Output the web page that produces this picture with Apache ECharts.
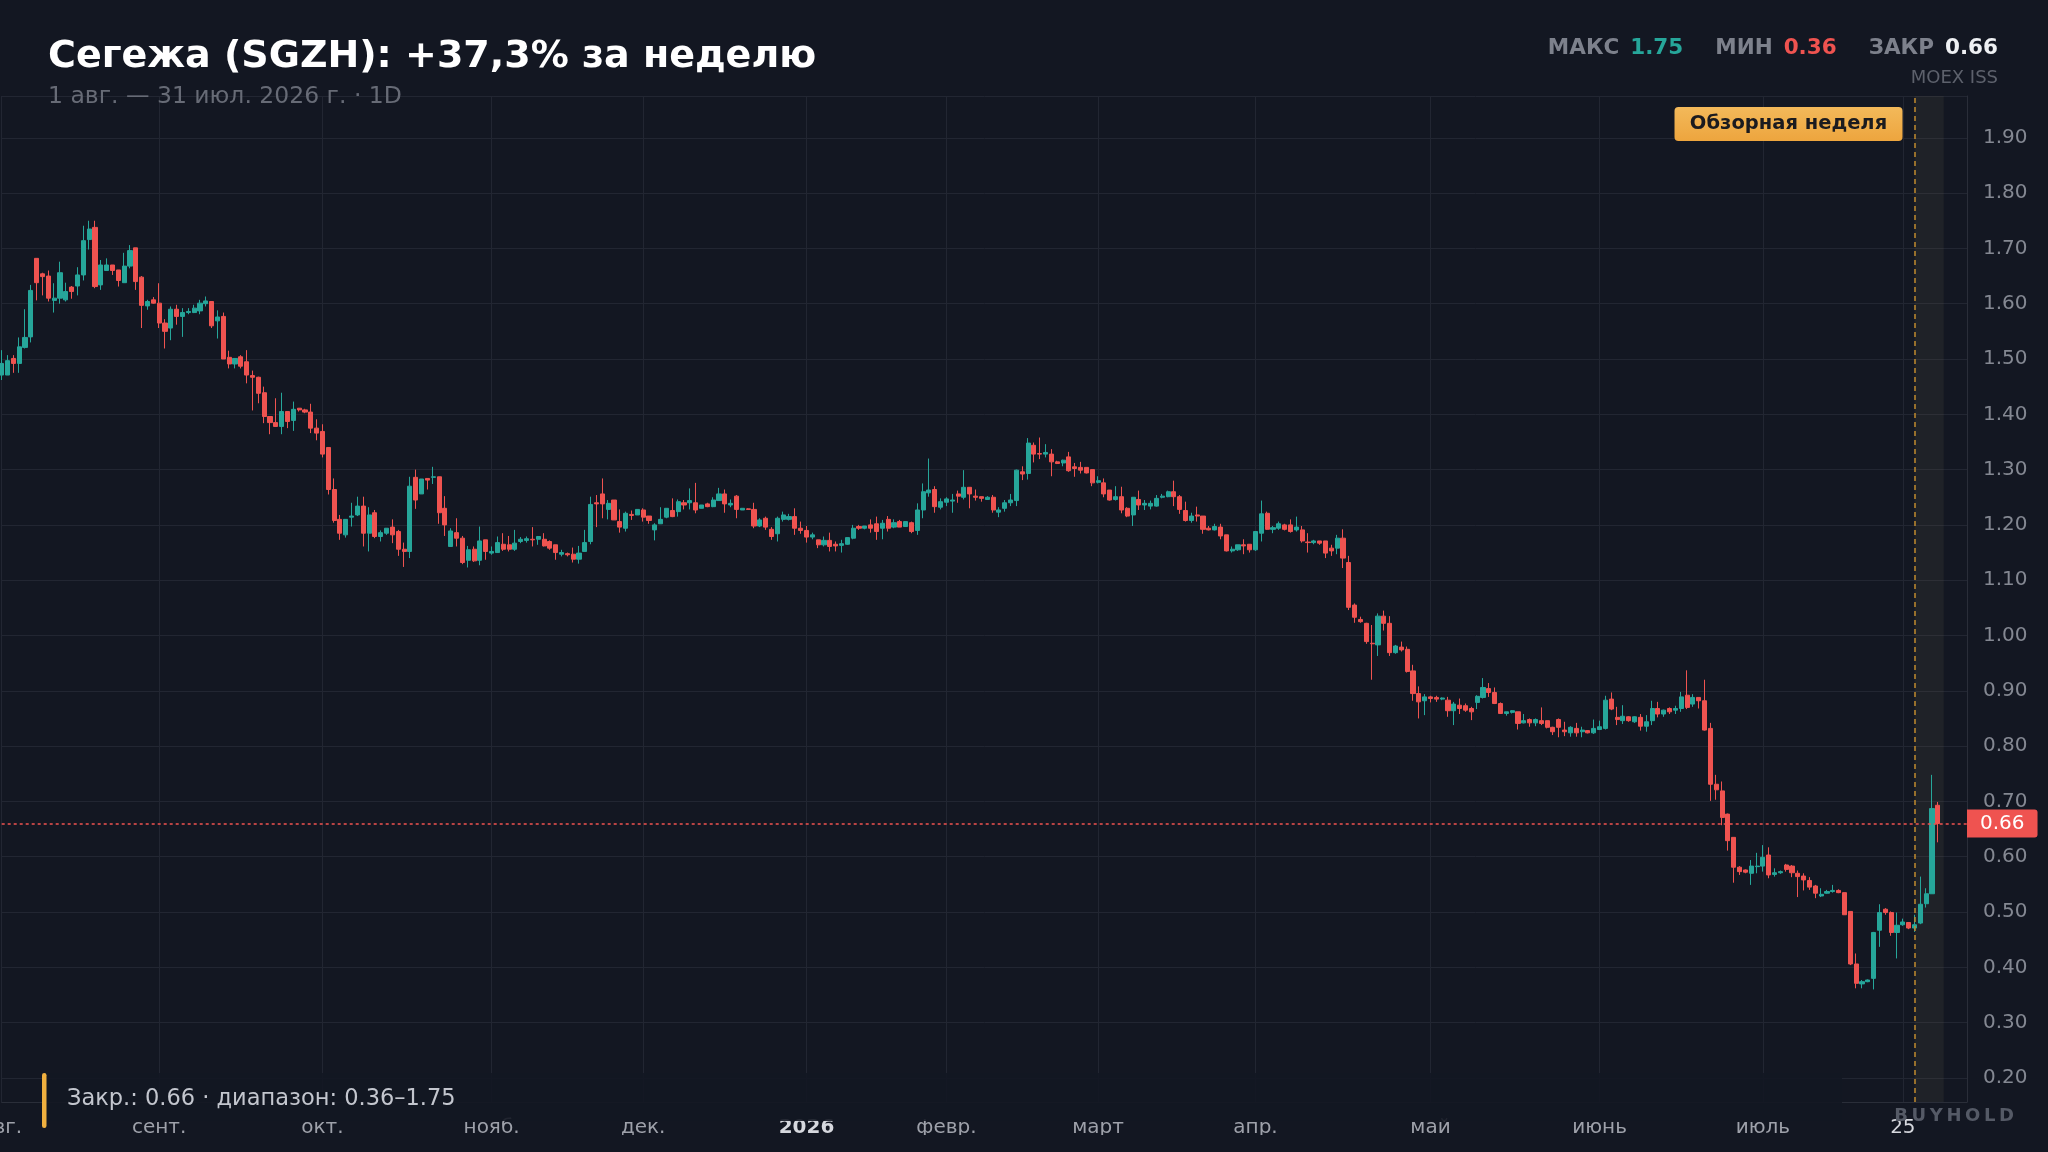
<!DOCTYPE html>
<html><head><meta charset="utf-8">
<script src="https://cdn.jsdelivr.net/npm/echarts@6/dist/echarts.min.js"></script>
<style>html,body{margin:0;padding:0;background:#131722;}#c{width:2048px;height:1152px;}</style>
</head><body><div id="c"></div>
<script>
// ---- data ----
const opens = [
1.471,1.471,1.501,1.492,1.521,1.540,1.682,1.654,1.650,1.606,
1.610,1.607,1.630,1.632,1.652,1.716,1.738,1.634,1.660,1.670,
1.661,1.638,1.668,1.701,1.648,1.596,1.607,1.601,1.565,1.556,
1.590,1.577,1.584,1.584,1.587,1.600,1.604,1.569,1.577,1.503,
1.491,1.504,1.495,1.470,1.467,1.439,1.396,1.385,1.378,1.405,
1.389,1.411,1.408,1.404,1.375,1.369,1.340,1.264,1.210,1.182,
1.214,1.218,1.234,1.185,1.222,1.179,1.185,1.196,1.188,1.156,
1.152,1.286,1.256,1.284,1.286,1.287,1.230,1.161,1.186,1.176,
1.136,1.156,1.136,1.173,1.149,1.150,1.165,1.164,1.156,1.170,
1.172,1.174,1.174,1.174,1.170,1.164,1.147,1.148,1.147,1.138,
1.152,1.170,1.240,1.256,1.228,1.245,1.206,1.194,1.219,1.218,
1.227,1.216,1.191,1.202,1.214,1.226,1.224,1.240,1.240,1.240,
1.230,1.238,1.233,1.244,1.256,1.236,1.252,1.227,1.229,1.228,
1.198,1.212,1.192,1.184,1.210,1.210,1.215,1.194,1.190,1.178,
1.173,1.164,1.172,1.165,1.163,1.165,1.176,1.197,1.194,1.200,
1.202,1.194,1.210,1.196,1.206,1.197,1.204,1.190,1.227,1.258,
1.264,1.232,1.241,1.243,1.256,1.250,1.268,1.252,1.251,1.246,
1.250,1.223,1.230,1.240,1.244,1.296,1.293,1.344,1.329,1.328,
1.328,1.314,1.312,1.323,1.305,1.304,1.304,1.300,1.277,1.276,
1.263,1.246,1.251,1.230,1.218,1.246,1.236,1.234,1.234,1.250,
1.251,1.260,1.251,1.226,1.208,1.218,1.216,1.194,1.191,1.196,
1.182,1.153,1.155,1.164,1.165,1.155,1.185,1.221,1.192,1.194,
1.200,1.200,1.191,1.191,1.169,1.168,1.171,1.171,1.158,1.158,
1.176,1.132,1.055,1.029,1.022,0.986,0.983,1.035,1.022,0.969,
0.979,0.975,0.936,0.895,0.882,0.889,0.888,0.885,0.883,0.864,
0.874,0.873,0.868,0.879,0.888,0.904,0.897,0.877,0.859,0.861,
0.862,0.842,0.848,0.842,0.846,0.846,0.834,0.848,0.829,0.824,
0.832,0.826,0.828,0.824,0.830,0.832,0.885,0.852,0.846,0.853,
0.844,0.852,0.836,0.846,0.868,0.858,0.868,0.865,0.868,0.892,
0.876,0.888,0.882,0.832,0.731,0.719,0.677,0.635,0.581,0.576,
0.570,0.582,0.583,0.603,0.568,0.571,0.585,0.583,0.570,0.565,
0.557,0.547,0.529,0.534,0.537,0.539,0.535,0.501,0.406,0.370,
0.374,0.380,0.467,0.505,0.499,0.463,0.477,0.481,0.471,0.480,
0.515,0.533,0.693];
const closes = [
1.492,1.497,1.492,1.522,1.539,1.624,1.638,1.649,1.610,1.610,
1.656,1.622,1.622,1.652,1.714,1.735,1.631,1.670,1.670,1.660,
1.642,1.668,1.696,1.640,1.597,1.604,1.601,1.565,1.550,1.590,
1.577,1.584,1.586,1.592,1.601,1.605,1.560,1.576,1.500,1.491,
1.501,1.487,1.471,1.467,1.438,1.396,1.385,1.378,1.405,1.387,
1.409,1.408,1.404,1.375,1.366,1.328,1.264,1.208,1.185,1.210,
1.216,1.234,1.185,1.218,1.179,1.186,1.194,1.182,1.156,1.152,
1.270,1.245,1.283,1.281,1.287,1.222,1.200,1.189,1.176,1.132,
1.155,1.135,1.171,1.152,1.152,1.168,1.156,1.156,1.167,1.174,
1.175,1.173,1.179,1.162,1.158,1.150,1.150,1.146,1.138,1.149,
1.168,1.237,1.238,1.238,1.239,1.209,1.196,1.221,1.217,1.228,
1.214,1.208,1.200,1.210,1.230,1.215,1.242,1.236,1.244,1.227,
1.236,1.233,1.245,1.256,1.238,1.239,1.228,1.230,1.228,1.198,
1.209,1.196,1.179,1.212,1.218,1.215,1.194,1.190,1.178,1.182,
1.164,1.172,1.161,1.162,1.166,1.177,1.194,1.194,1.198,1.194,
1.188,1.203,1.194,1.204,1.196,1.206,1.188,1.227,1.260,1.263,
1.233,1.242,1.247,1.245,1.252,1.268,1.256,1.250,1.248,1.250,
1.227,1.227,1.240,1.245,1.299,1.292,1.348,1.328,1.328,1.331,
1.314,1.311,1.317,1.298,1.302,1.299,1.294,1.276,1.280,1.256,
1.245,1.251,1.227,1.216,1.250,1.236,1.239,1.239,1.248,1.252,
1.260,1.251,1.228,1.208,1.216,1.216,1.192,1.191,1.197,1.180,
1.153,1.156,1.164,1.162,1.155,1.188,1.220,1.192,1.195,1.202,
1.192,1.188,1.196,1.171,1.168,1.171,1.167,1.149,1.153,1.176,
1.140,1.051,1.033,1.025,0.989,0.985,1.035,1.022,0.969,0.981,
0.974,0.935,0.895,0.880,0.889,0.886,0.885,0.887,0.864,0.876,
0.868,0.865,0.862,0.890,0.906,0.897,0.877,0.859,0.862,0.864,
0.841,0.846,0.842,0.848,0.841,0.834,0.826,0.834,0.826,0.834,
0.824,0.829,0.824,0.832,0.835,0.883,0.867,0.848,0.854,0.846,
0.853,0.836,0.844,0.868,0.858,0.865,0.862,0.868,0.889,0.870,
0.888,0.882,0.829,0.731,0.721,0.671,0.629,0.581,0.573,0.572,
0.583,0.583,0.599,0.567,0.571,0.573,0.577,0.571,0.564,0.558,
0.545,0.534,0.532,0.537,0.539,0.535,0.495,0.406,0.371,0.374,
0.377,0.463,0.499,0.499,0.463,0.476,0.482,0.471,0.477,0.514,
0.533,0.687,0.660];
const lows = [
1.462,1.471,1.475,1.475,1.519,1.530,1.606,1.615,1.604,1.584,
1.600,1.604,1.609,1.615,1.642,1.698,1.628,1.625,1.660,1.652,
1.631,1.638,1.664,1.625,1.556,1.589,1.600,1.556,1.519,1.534,
1.562,1.540,1.581,1.583,1.581,1.595,1.556,1.537,1.500,1.483,
1.483,1.483,1.456,1.407,1.420,1.384,1.364,1.378,1.364,1.375,
1.370,1.405,1.402,1.366,1.353,1.322,1.255,1.204,1.173,1.177,
1.197,1.216,1.161,1.152,1.176,1.170,1.182,1.167,1.144,1.124,
1.140,1.229,1.256,1.264,1.274,1.202,1.180,1.161,1.161,1.129,
1.123,1.133,1.127,1.137,1.146,1.150,1.153,1.152,1.153,1.167,
1.168,1.161,1.164,1.161,1.155,1.137,1.143,1.143,1.132,1.130,
1.152,1.165,1.196,1.212,1.210,1.209,1.186,1.188,1.209,1.218,
1.206,1.202,1.172,1.202,1.212,1.214,1.215,1.228,1.228,1.221,
1.230,1.232,1.232,1.244,1.222,1.232,1.212,1.227,1.228,1.194,
1.196,1.191,1.173,1.170,1.206,1.208,1.182,1.184,1.168,1.174,
1.158,1.161,1.152,1.152,1.150,1.164,1.174,1.191,1.192,1.186,
1.173,1.174,1.188,1.194,1.196,1.197,1.185,1.182,1.212,1.251,
1.222,1.228,1.234,1.222,1.240,1.246,1.230,1.244,1.242,1.245,
1.222,1.214,1.224,1.234,1.234,1.281,1.282,1.313,1.319,1.322,
1.288,1.310,1.306,1.296,1.287,1.293,1.293,1.270,1.275,1.250,
1.244,1.244,1.221,1.214,1.198,1.227,1.227,1.228,1.233,1.248,
1.250,1.234,1.220,1.206,1.204,1.206,1.184,1.190,1.190,1.174,
1.152,1.150,1.153,1.147,1.150,1.153,1.170,1.191,1.185,1.191,
1.190,1.186,1.188,1.168,1.150,1.165,1.164,1.140,1.144,1.147,
1.122,1.046,1.023,1.023,0.985,0.920,0.963,1.009,0.963,0.967,
0.971,0.933,0.882,0.850,0.856,0.879,0.880,0.883,0.853,0.838,
0.858,0.862,0.847,0.867,0.886,0.889,0.876,0.858,0.855,0.859,
0.830,0.841,0.835,0.836,0.838,0.832,0.820,0.816,0.818,0.817,
0.817,0.816,0.823,0.822,0.829,0.830,0.865,0.838,0.840,0.844,
0.842,0.828,0.826,0.838,0.852,0.853,0.858,0.858,0.862,0.867,
0.871,0.868,0.828,0.701,0.703,0.657,0.611,0.553,0.567,0.570,
0.549,0.570,0.573,0.561,0.564,0.569,0.573,0.563,0.527,0.539,
0.540,0.525,0.527,0.533,0.535,0.534,0.495,0.404,0.362,0.362,
0.373,0.360,0.437,0.495,0.457,0.416,0.475,0.469,0.464,0.478,
0.508,0.533,0.626];
const highs = [
1.516,1.507,1.507,1.539,1.590,1.634,1.682,1.656,1.660,1.637,
1.676,1.638,1.632,1.666,1.741,1.750,1.750,1.679,1.682,1.670,
1.661,1.692,1.706,1.701,1.650,1.607,1.612,1.637,1.572,1.595,
1.598,1.592,1.592,1.598,1.607,1.613,1.604,1.588,1.584,1.515,
1.501,1.507,1.516,1.479,1.468,1.450,1.396,1.429,1.439,1.405,
1.423,1.411,1.410,1.419,1.391,1.382,1.340,1.284,1.218,1.210,
1.240,1.251,1.251,1.232,1.227,1.190,1.194,1.210,1.191,1.168,
1.287,1.300,1.283,1.284,1.305,1.287,1.252,1.194,1.212,1.180,
1.162,1.161,1.197,1.173,1.161,1.179,1.185,1.180,1.191,1.178,
1.179,1.196,1.180,1.185,1.172,1.164,1.155,1.150,1.159,1.162,
1.191,1.251,1.254,1.284,1.245,1.245,1.228,1.224,1.226,1.228,
1.230,1.216,1.203,1.232,1.230,1.248,1.246,1.245,1.266,1.276,
1.236,1.240,1.250,1.267,1.264,1.246,1.254,1.230,1.230,1.240,
1.212,1.215,1.196,1.215,1.224,1.220,1.230,1.206,1.198,1.186,
1.173,1.179,1.186,1.170,1.173,1.177,1.200,1.200,1.198,1.210,
1.215,1.209,1.216,1.210,1.209,1.206,1.206,1.239,1.275,1.320,
1.270,1.248,1.250,1.256,1.262,1.299,1.268,1.264,1.251,1.252,
1.254,1.232,1.245,1.256,1.300,1.306,1.357,1.349,1.358,1.346,
1.337,1.316,1.318,1.332,1.312,1.314,1.304,1.300,1.288,1.284,
1.263,1.270,1.269,1.232,1.250,1.262,1.245,1.244,1.254,1.256,
1.262,1.280,1.254,1.242,1.222,1.233,1.216,1.198,1.202,1.202,
1.182,1.161,1.164,1.174,1.165,1.188,1.244,1.224,1.198,1.206,
1.202,1.210,1.215,1.198,1.185,1.173,1.171,1.171,1.164,1.182,
1.192,1.144,1.058,1.034,1.023,1.019,1.040,1.045,1.035,0.983,
0.989,0.980,0.947,0.908,0.894,0.891,0.891,0.888,0.889,0.880,
0.886,0.877,0.871,0.892,0.923,0.914,0.906,0.879,0.862,0.865,
0.862,0.858,0.850,0.850,0.870,0.846,0.835,0.850,0.844,0.836,
0.842,0.835,0.829,0.848,0.846,0.891,0.897,0.871,0.874,0.854,
0.854,0.858,0.856,0.882,0.880,0.866,0.870,0.873,0.898,0.937,
0.894,0.888,0.920,0.842,0.748,0.736,0.678,0.635,0.583,0.577,
0.594,0.607,0.621,0.617,0.579,0.575,0.587,0.585,0.575,0.570,
0.563,0.549,0.543,0.540,0.549,0.541,0.535,0.501,0.425,0.377,
0.378,0.464,0.514,0.507,0.501,0.499,0.488,0.481,0.495,0.564,
0.543,0.748,0.699];

// calendar: daily sessions from 1 Aug 2025, days without a session listed here
const firstDay = '2025-08-01';
const skippedDays = ['2025-08-03','2025-08-10','2025-08-17','2025-08-24','2025-09-07','2025-09-14',
  '2025-10-05','2025-10-12','2025-11-02','2025-11-04','2025-11-09','2025-11-16','2025-12-07','2025-12-14','2025-12-31',
  '2026-01-01','2026-01-02','2026-01-03','2026-01-04','2026-01-05','2026-01-06','2026-01-07',
  '2026-02-22','2026-02-23','2026-03-08','2026-03-09','2026-03-15','2026-03-22',
  '2026-05-01','2026-05-09','2026-06-12','2026-06-14'];
const emptySlotsRight = 5;
const monthNames = ['янв.','февр.','март','апр.','май','июнь','июль','авг.','сент.','окт.','нояб.','дек.'];
const dayLabel = '2026-07-25';
const weekStart = '2026-07-27';
const titleText = 'Сегежа (SGZH): +37,3% за неделю';
const subtitleText = '1 авг. — 31 июл. 2026 г. · 1D';
const badgeText = 'Обзорная неделя';
const sourceText = 'MOEX ISS';
const brandText = 'B\u2009U\u2009Y\u2009H\u2009O\u2009L\u2009D';

// ---- build ----
const dates = [];
{
  let t = Date.parse(firstDay + 'T00:00:00Z');
  while (dates.length < opens.length + emptySlotsRight) {
    const s = new Date(t).toISOString().slice(0, 10);
    if (!skippedDays.includes(s)) dates.push(s);
    t += 86400000;
  }
}
const candles = opens.map((o, i) => [o, closes[i], lows[i], highs[i]]);
const lastClose = closes[closes.length - 1];
const maxHigh = Math.max(...highs);
const minLow = Math.min(...lows);

function isMark(idx) {
  if (idx >= opens.length) return false;
  const v = dates[idx];
  if (v === dayLabel) return true;
  if (idx === 0) return true;
  return v.slice(5, 7) !== dates[idx - 1].slice(5, 7);
}

const BG = '#131722', GRID = '#222632', UP = '#26a69a', DOWN = '#ef5350';
const FONT = '"DejaVu Sans", sans-serif';

const chart = echarts.init(document.getElementById('c'), null, {renderer: 'canvas', width: 2048, height: 1152});

const option = {
  backgroundColor: BG,
  animation: false,
  textStyle: {fontFamily: FONT},
  grid: {left: 1.7, right: 81, top: 96, bottom: 50, containLabel: false, outerBoundsMode: 'none'},
  xAxis: {
    type: 'category', data: dates, boundaryGap: false,
    axisLine: {show: true, lineStyle: {color: '#2a2e39', width: 1}},
    axisTick: {show: false},
    axisLabel: {
      interval: (i) => isMark(i), margin: 16, color: '#9ea1aa', fontSize: 20, fontFamily: FONT,
      formatter: (v) => {
        if (v === dayLabel) return '{d|' + String(parseInt(v.slice(8), 10)) + '}';
        const m = parseInt(v.slice(5, 7), 10);
        if (m === 1) return '{y|' + v.slice(0, 4) + '}';
        return monthNames[m - 1];
      },
      rich: {
        y: {fontWeight: 'bold', color: '#d6d8de', fontSize: 20, fontFamily: FONT},
        d: {color: '#d6d8de', fontSize: 20, fontFamily: FONT}
      }
    },
    splitLine: {show: true, interval: (i) => isMark(i), lineStyle: {color: GRID, width: 1}}
  },
  yAxis: {
    type: 'value', position: 'right', min: 0.15642, max: 1.97559, splitNumber: 18,
    axisLine: {show: true, lineStyle: {color: '#2a2e39', width: 1}},
    axisTick: {show: false},
    axisLabel: {color: '#848892', fontSize: 20, margin: 16, fontFamily: FONT,
      showMinLabel: false, showMaxLabel: false, formatter: (v) => v.toFixed(2)},
    splitLine: {show: true, lineStyle: {color: GRID, width: 1}}
  },
  series: [{
    type: 'candlestick', data: candles, barWidth: 4.6, clip: false,
    itemStyle: {color: UP, color0: DOWN, borderColor: UP, borderColor0: DOWN, borderWidth: 1},
    markArea: {
      silent: true,
      itemStyle: {color: 'rgba(140,125,95,0.11)'},
      data: [[{xAxis: weekStart}, {xAxis: dates[opens.length]}]]
    },
    markLine: {
      silent: true, symbol: ['none', 'none'], animation: false,
      data: [
        {yAxis: lastClose,
         lineStyle: {color: DOWN, type: [3, 3], width: 1.5},
         label: {show: true, position: 'end', distance: 0, formatter: () => lastClose.toFixed(2),
           backgroundColor: DOWN, color: '#ffffff', fontSize: 20, fontFamily: FONT,
           padding: [4, 13, 4, 13], borderRadius: [0, 3, 3, 0]}},
        {xAxis: weekStart,
         lineStyle: {color: '#c08a2e', type: [5, 4], width: 1.5},
         label: {show: false}}
      ]
    }
  }]
};
chart.setOption(option);

const wx = chart.convertToPixel({xAxisIndex: 0}, weekStart);
const graphics = [
  {type: 'text', id: 'title', x: 48, y: 57, z: 100,
   style: {text: titleText, fill: '#ffffff', font: 'bold 38px ' + FONT, verticalAlign: 'middle'}},
  {type: 'text', id: 'sub', x: 48, y: 96.5, z: 100,
   style: {text: subtitleText, fill: '#676b76', font: '23.5px ' + FONT, verticalAlign: 'middle'}},
  {type: 'text', id: 'stats', x: 1998, y: 48.5, z: 100,
   style: {
     text: '{l|МАКС}{s|}{u|' + maxHigh.toFixed(2) + '}{g|}{l|МИН}{s|}{n|' + minLow.toFixed(2) + '}{g|}{l|ЗАКР}{s|}{w|' + lastClose.toFixed(2) + '}',
     align: 'right', verticalAlign: 'middle',
     rich: {
       l: {fill: '#7d818c', font: 'bold 21.5px ' + FONT},
       u: {fill: UP, font: 'bold 21.5px ' + FONT},
       n: {fill: DOWN, font: 'bold 21.5px ' + FONT},
       w: {fill: '#eef0f3', font: 'bold 21.5px ' + FONT},
       s: {width: 11},
       g: {width: 32}
     }
   }},
  {type: 'text', id: 'src', x: 1998, y: 78.5, z: 100,
   style: {text: sourceText, fill: '#5d616c', font: '18px ' + FONT, align: 'right', verticalAlign: 'middle'}},
  // legend strip over the lower plot edge (slightly see-through)
  {type: 'rect', id: 'maskA', z: 50, shape: {x: 42, y: 1073, width: 1800, height: 48}, style: {fill: 'rgba(19,23,34,0.9)'}},
  // time-scale strip ends here
  {type: 'rect', id: 'maskC', z: 50, shape: {x: 0, y: 1135, width: 1967, height: 17}, style: {fill: BG}},
  {type: 'rect', id: 'bar', z: 100, shape: {x: 42, y: 1073, width: 4.5, height: 55, r: 2.2}, style: {fill: '#f0b03f'}},
  {type: 'text', id: 'cap', x: 67, y: 1099, z: 100,
   style: {text: 'Закр.: ' + lastClose.toFixed(2) + ' · диапазон: ' + minLow.toFixed(2) + '–' + maxHigh.toFixed(2),
     fill: '#c3c6ce', font: '22.5px ' + FONT, verticalAlign: 'middle'}},
  {type: 'text', id: 'brand', x: 2014, y: 1116, z: 40,
   style: {text: brandText, fill: '#555a66', font: 'bold 18px ' + FONT, align: 'right', verticalAlign: 'middle'}},
  // badge for the review week
  {type: 'group', id: 'badge', x: wx - 240, y: 107, z: 100, children: [
    {type: 'rect', z: 100, shape: {x: 0, y: 0, width: 228, height: 34, r: 4},
     style: {fill: new echarts.graphic.LinearGradient(0, 0, 0, 1, [{offset: 0, color: '#f3b95a'}, {offset: 1, color: '#eda53e'}])}},
    {type: 'text', z: 101, x: 114, y: 17,
     style: {text: badgeText, fill: '#1b1b1f', font: 'bold 19.5px ' + FONT, align: 'center', verticalAlign: 'middle'}}
  ]}
];
chart.setOption({graphic: graphics});
</script>
</body></html>
